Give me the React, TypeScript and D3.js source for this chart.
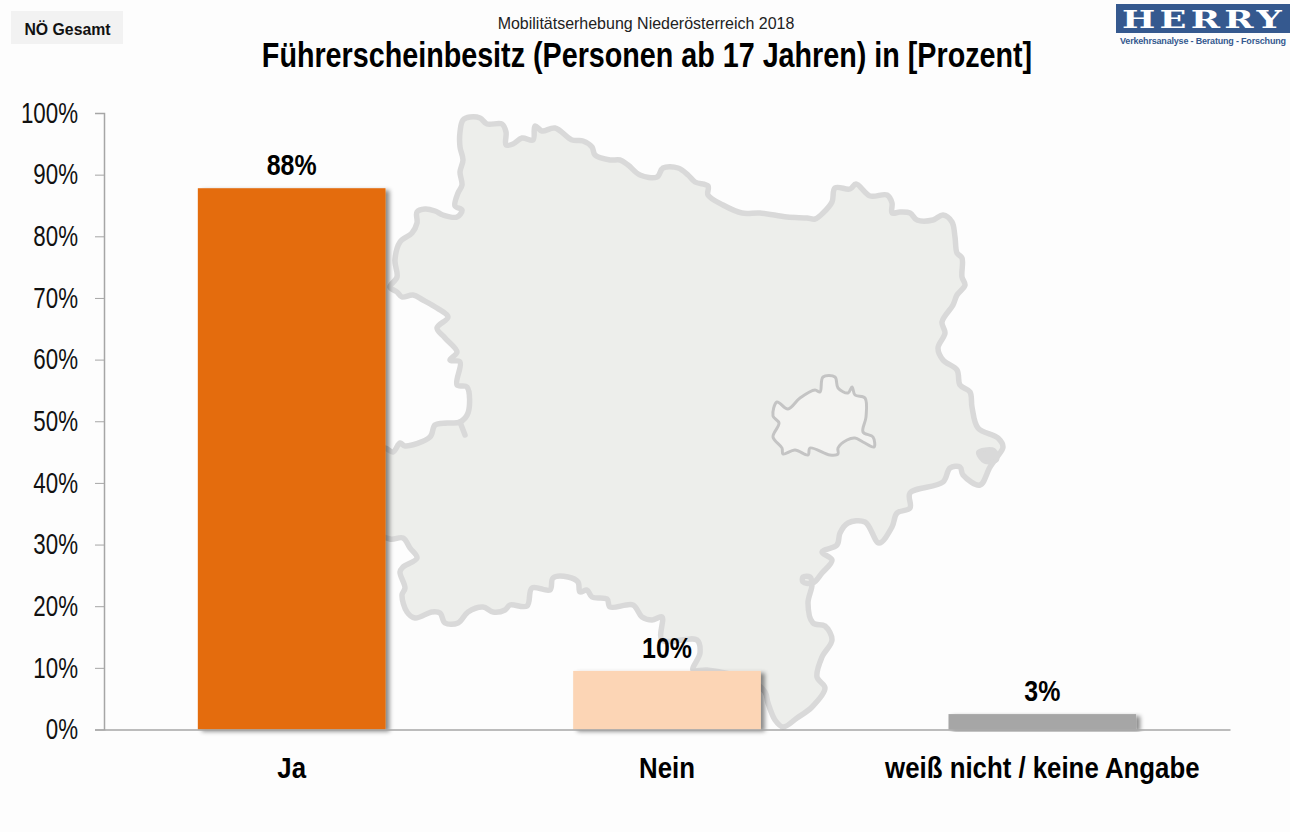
import React, { useEffect, useRef } from "react";
import * as d3 from "d3";

const categories = ["Ja", "Nein", "weiß nicht / keine Angabe"];
const values = [87.8, 9.5, 2.5];
const barColors = ["#e46c0a", "#fcd5b5", "#a6a6a6"];
const yTicks = [0, 10, 20, 30, 40, 50, 60, 70, 80, 90, 100];

type P = [number, number];
const mapOutline: P[] = [
  [390,287],[397,277],[395,260],[400,242],[412,233],[417,223],[417,212],[425,209],[435,211],[443,215],[457,217],[462,210],[455,206],[458,193],[462,185],[460,172],[463,160],[460,147],[460,132],[463,120],[470,117],[480,118],[487,124],[502,124],[506,132],[506,145],[513,144],[522,138],[533,140],[535,126],[542,131],[555,128],[572,140],[583,141],[592,147],[595,155],[610,160],[620,160],[628,165],[640,175],[657,177],[663,168],[678,168],[688,175],[695,182],[708,186],[708,195],[723,205],[742,213],[760,213],[787,217],[807,218],[815,219],[823,213],[832,202],[835,188],[850,189],[856,184],[870,196],[887,195],[892,203],[892,213],[900,212],[910,213],[917,220],[933,220],[943,215],[952,222],[955,237],[957,253],[962,258],[962,277],[965,285],[957,295],[953,305],[942,322],[945,333],[938,348],[943,360],[957,370],[960,385],[970,392],[972,407],[978,428],[998,438],[1003,447],[997,457],[990,467],[980,485],[963,475],[960,467],[950,468],[943,482],[910,493],[910,508],[897,513],[892,527],[879,543],[865,522],[848,523],[840,533],[837,545],[822,552],[832,560],[822,573],[813,583],[803,582],[803,577],[810,577],[812,585],[808,603],[813,623],[825,626],[832,640],[822,657],[817,677],[825,688],[812,707],[797,718],[783,727],[775,720],[768,703],[765,692],[750,680],[707,670],[693,670],[700,653],[697,640],[662,640],[662,617],[652,620],[642,617],[633,605],[610,607],[607,599],[592,597],[587,590],[580,592],[578,582],[568,577],[553,578],[550,590],[532,588],[527,606],[510,605],[505,610],[493,612],[483,607],[468,612],[458,623],[445,623],[440,613],[432,612],[415,618],[407,612],[402,595],[405,588],[400,572],[403,567],[417,558],[410,548],[403,538],[390,539],[375,530],[375,450],[385,448],[393,452],[400,443],[405,446],[430,437],[435,425],[447,423],[460,422],[468,413],[467,387],[457,385],[460,362],[450,360],[457,352],[445,338],[437,328],[448,317],[437,308],[423,300],[413,295],[402,297],[397,292],
];
const spurOutline: P[] = [[460,422],[465,435]];
const viennaOutline: P[] = [
  [777,402],[788,409],[800,398],[815,390],[820,392],[823,377],[835,377],[838,388],[848,393],[852,387],[855,395],[865,398],[866,417],[863,432],[873,437],[874,447],[863,442],[855,438],[847,440],[838,448],[838,454],[830,455],[810,448],[808,455],[795,450],[783,454],[782,448],[773,437],[779,423],[773,416],
];
const blobOutline: P[] = [[978,452],[994,450],[997,460],[985,462]];

const SANS = "'Liberation Sans',Arial,sans-serif";
const LOGO_BLUE = "#35598f";

// Arial Narrow is not installed: squeeze Liberation Sans to the same proportions.
function narrow(sel: d3.Selection<any, any, any, any>, factor: number) {
  sel.each(function () {
    const t = this as SVGTextElement;
    t.setAttribute("textLength", String(t.getComputedTextLength() * factor));
    t.setAttribute("lengthAdjust", "spacingAndGlyphs");
  });
}

export default function App() {
  const ref = useRef<SVGSVGElement | null>(null);
  useEffect(() => {
    document.body.style.margin = "0";
    const svg = d3.select(ref.current!);
    svg.selectAll("*").remove();

    const y = d3.scaleLinear().domain([0, 100]).range([729.5, 113]);
    const x = d3.scaleBand<string>().domain(categories).range([104, 1230]).paddingInner(0.5).paddingOuter(0.25);

    const defs = svg.append("defs");
    const f = defs.append("filter").attr("id", "barShadow").attr("x", "-10%").attr("y", "-10%").attr("width", "125%").attr("height", "125%");
    f.append("feDropShadow").attr("dx", 4).attr("dy", 2).attr("stdDeviation", 2).attr("flood-color", "#000").attr("flood-opacity", 0.45);

    svg.append("rect").attr("width", 1290).attr("height", 832).attr("fill", "#fdfdfd");

    // Map backdrop
    const smooth = d3.line().curve(d3.curveCatmullRomClosed.alpha(0.5));
    const open = d3.line();
    const mapG = svg.append("g").attr("stroke-linejoin", "round").attr("stroke-linecap", "round");
    mapG.append("path").attr("d", smooth(mapOutline)!).attr("fill", "#edeeeb").attr("stroke", "#d9d9d9").attr("stroke-width", 5.5);
    mapG.append("path").attr("d", open(spurOutline)!).attr("fill", "none").attr("stroke", "#d9d9d9").attr("stroke-width", 5.5);
    mapG.append("path").attr("d", smooth(blobOutline)!).attr("fill", "#d9d9d9").attr("stroke", "#d9d9d9").attr("stroke-width", 4);
    mapG.append("path").attr("d", smooth(viennaOutline)!).attr("fill", "#f3f3f1").attr("stroke", "#c4c4c4").attr("stroke-width", 3);

    // Bars
    const bars = svg.append("g");
    categories.forEach((c, i) => {
      bars.append("rect")
        .attr("x", x(c)!).attr("y", y(values[i]))
        .attr("width", x.bandwidth()).attr("height", y(0) - y(values[i]))
        .attr("fill", barColors[i]).attr("filter", "url(#barShadow)");
      const lab = svg.append("text")
        .attr("x", x(c)! + x.bandwidth() / 2).attr("y", y(values[i]) - 13)
        .attr("text-anchor", "middle").attr("font-family", SANS).attr("font-weight", 700)
        .attr("font-size", 30).attr("fill", "#000").text(`${Math.round(values[i])}%`);
      narrow(lab, 0.83);
    });

    // Y axis
    const axisG = svg.append("g").attr("transform", "translate(104,0)").call(
      d3.axisLeft(y).tickValues(yTicks).tickSize(9).tickPadding(17).tickFormat((d) => `${d}%`) as any,
    );
    axisG.selectAll("line").attr("stroke", "#a6a6a6").attr("stroke-width", 1);
    axisG.select(".domain").attr("stroke", "#a6a6a6").attr("stroke-width", 1.5);
    const yLabs = axisG.selectAll("text").attr("font-family", SANS).attr("font-size", 29).attr("fill", "#111");
    narrow(yLabs as any, 0.77);

    // X axis
    const xAxisG = svg.append("g").attr("transform", `translate(0,${y(0)})`).call(
      d3.axisBottom(x).tickSize(0).tickPadding(27) as any,
    );
    xAxisG.select(".domain").attr("stroke", "#a6a6a6").attr("stroke-width", 1.5);
    const xLabs = xAxisG.selectAll("text").attr("font-family", SANS).attr("font-weight", 700).attr("font-size", 30).attr("fill", "#000");
    narrow(xLabs as any, 0.86);

    // Header
    svg.append("rect").attr("x", 11).attr("y", 11).attr("width", 112).attr("height", 33).attr("fill", "#f2f2f2");
    narrow(svg.append("text").attr("x", 67.5).attr("y", 35).attr("text-anchor", "middle").attr("font-family", SANS)
      .attr("font-weight", 700).attr("font-size", 17).attr("fill", "#111").text("NÖ Gesamt"), 0.93);
    narrow(svg.append("text").attr("x", 646).attr("y", 29).attr("text-anchor", "middle").attr("font-family", SANS)
      .attr("font-size", 17).attr("fill", "#222").text("Mobilitätserhebung Niederösterreich 2018"), 0.94);
    narrow(svg.append("text").attr("x", 647).attr("y", 67).attr("text-anchor", "middle").attr("font-family", SANS)
      .attr("font-weight", 700).attr("font-size", 35).attr("fill", "#000").text("Führerscheinbesitz (Personen ab 17 Jahren) in [Prozent]"), 0.82);

    // Logo
    svg.append("rect").attr("x", 1116).attr("y", 4).attr("width", 174).attr("height", 29).attr("fill", LOGO_BLUE);
    svg.append("text").attr("x", 1204).attr("y", 27.5).attr("text-anchor", "middle")
      .attr("font-family", "'DejaVu Serif',serif").attr("font-weight", 700).attr("font-size", 25)
      .style("letter-spacing", "3px")
      .attr("textLength", 164).attr("lengthAdjust", "spacingAndGlyphs").attr("fill", "#fff").text("HERRY");
    svg.append("text").attr("x", 1203).attr("y", 44).attr("text-anchor", "middle").attr("font-family", SANS)
      .attr("font-weight", 700).attr("font-size", 9).attr("textLength", 166).attr("lengthAdjust", "spacing")
      .attr("fill", LOGO_BLUE).text("Verkehrsanalyse - Beratung - Forschung");
  }, []);
  return <svg ref={ref} width={1290} height={832} style={{ position: "absolute", left: 0, top: 0, display: "block" }} />;
}
